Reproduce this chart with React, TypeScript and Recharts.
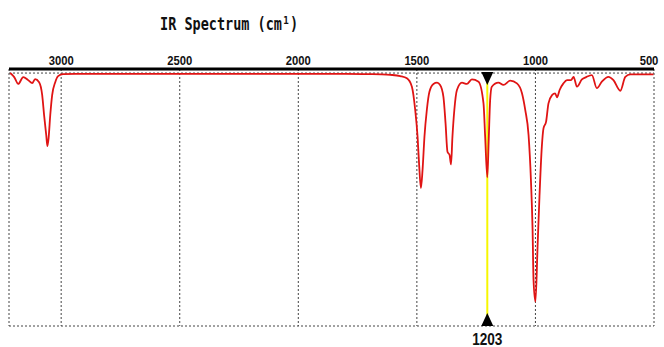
import React from 'react';
import {
    LineChart, Line, XAxis, YAxis, CartesianGrid, ReferenceLine, ReferenceDot
} from 'recharts';

// wavenumbers (cm-1), left to right on the reversed axis
const wavenumbers = [
    3215, 3198, 3181, 3160, 3139, 3122, 3110, 3093, 3080, 3072, 3063, 3058, 3053, 3046, 3038, 3025, 3013, 2992, 2941,
    2800, 2500, 2200, 2000, 1800, 1700, 1650, 1612, 1570, 1542, 1521, 1507, 1497, 1490, 1483, 1476, 1468, 1458, 1447,
    1430, 1415, 1402, 1388, 1379, 1371, 1362, 1356, 1350, 1342, 1331, 1310, 1289, 1268, 1240, 1219, 1212, 1203, 1197,
    1191, 1184, 1156, 1135, 1106, 1078, 1057, 1043, 1029, 1019, 1012, 1008, 1000, 991, 983, 973, 966, 955, 945,
    930, 917, 909, 898, 882, 867, 850, 839, 825, 804, 786, 762, 741, 720, 692, 671, 642, 621, 600, 502
];

// transmittance (%)
const transmittance = [
    100, 98.4, 95.7, 98.4, 97.2, 96.0, 97.6, 96.4, 91.3, 83.4, 75.5, 71.1, 74.3, 83.4, 91.3, 96.4, 98.8, 99.6, 99.7,
    99.7, 99.7, 99.7, 99.7, 99.7, 99.6, 99.5, 99.3, 98.8, 97.9, 94.6, 85.4, 74.8, 63.0, 54.5, 61.7, 74.8, 85.4, 92.6,
    95.7, 96.2, 95.3, 90.6, 80.1, 68.9, 67.6, 63.9, 74.8, 85.4, 93.3, 96.2, 95.7, 97.5, 96.6, 88.0, 74.8, 58.8, 73.5,
    89.3, 94.6, 96.2, 95.3, 97.0, 95.9, 92.1, 85.4, 75.5, 57.7, 37.9, 18.2, 9.6, 31.3, 51.1, 70.9, 78.1, 80.8, 88.0,
    91.3, 92.0, 90.4, 93.3, 95.9, 97.2, 97.2, 98.5, 94.6, 97.5, 98.4, 99.2, 94.0, 96.6, 98.5, 97.2, 93.0, 98.5, 99.5, 99.5
];

const axisTicks = [3000, 2500, 2000, 1500, 1000, 500];
const markedPeak = 1203;

const data = wavenumbers.map((w, i) => ({ w, t: transmittance[i] }));

const labelFont = "'Liberation Sans', Arial, sans-serif";

// condensed bold tick label above the axis
const TopTick = (props: any) => {
    const { x, y, payload } = props;
    const shift = payload.value === 500 ? -3 : 0;
    return (
        <g transform={`translate(${x + shift},${y}) scale(0.9,1)`}>
            <text x={0} y={-4} textAnchor="middle" fontFamily={labelFont} fontWeight="bold" fontSize={12.5} fill="#111">
                {payload.value}
            </text>
        </g>
    );
};

const TopMarker = (props: any) => {
    const { cx, cy } = props;
    return <path d={`M${cx - 6},${cy - 1} L${cx + 6},${cy - 1} L${cx},${cy + 12} Z`} fill="#000" />;
};

const BottomMarker = (props: any) => {
    const { cx, cy } = props;
    return (
        <g>
            <path d={`M${cx - 6},${cy} L${cx + 6},${cy} L${cx},${cy - 13} Z`} fill="#000" />
            <g transform={`translate(${cx},${cy + 19}) scale(0.8,1)`}>
                <text x={0} y={0} textAnchor="middle" fontFamily={labelFont} fontWeight="bold" fontSize={17} fill="#111">
                    {markedPeak}
                </text>
            </g>
        </g>
    );
};

const App = () => {
    return (
        <div style={{ position: 'absolute', left: 0, top: 0, width: 664, height: 347, background: '#fff' }}>
            <div style={{
                position: 'absolute', left: 160, top: 13, fontFamily: "'DejaVu Sans Mono', monospace",
                fontSize: 18, fontWeight: 'bold', color: '#111', transform: 'scaleX(0.75)', transformOrigin: 'left top',
                whiteSpace: 'nowrap'
            }}>
                IR Spectrum (cm¹)
            </div>
            <LineChart width={664} height={347} data={data} margin={{ top: 49, right: 10, bottom: 21, left: 9 }}>
                <CartesianGrid horizontal={false} stroke="#444" strokeDasharray="2 2" />
                <XAxis
                    type="number"
                    dataKey="w"
                    domain={[500, 3220]}
                    reversed
                    orientation="top"
                    ticks={axisTicks}
                    height={20}
                    tickSize={0}
                    tickMargin={0}
                    axisLine={{ stroke: '#000', strokeWidth: 3 }}
                    tickLine={false}
                    tick={<TopTick />}
                    allowDataOverflow
                />
                <YAxis hide domain={[0, 101.6]} />
                <ReferenceLine y={100} stroke="#444" strokeDasharray="2 2" />
                <ReferenceLine y={0} stroke="#444" strokeDasharray="2 2" />
                <ReferenceLine segment={[{ x: markedPeak, y: 0 }, { x: markedPeak, y: 100 }]} stroke="#f7f700" strokeWidth={2} />
                <Line
                    type="monotone"
                    dataKey="t"
                    stroke="#e01414"
                    strokeWidth={1.8}
                    dot={false}
                    isAnimationActive={false}
                />
                <ReferenceDot x={markedPeak} y={100} r={6} shape={TopMarker} />
                <ReferenceDot x={markedPeak} y={0} r={6} shape={BottomMarker} />
            </LineChart>
        </div>
    );
};

export default App;
